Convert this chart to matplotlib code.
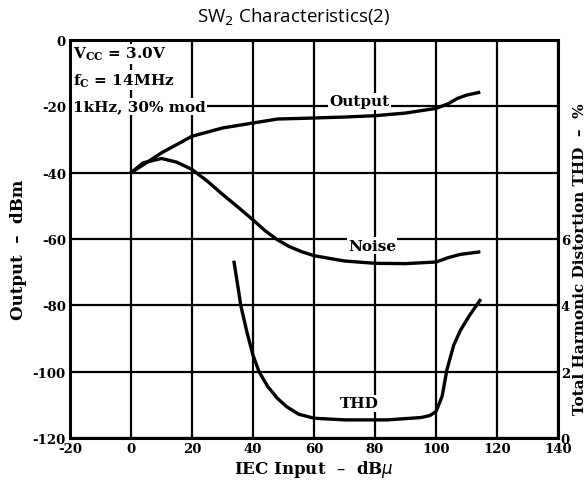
import matplotlib.pyplot as plt

plt.rcParams['axes.unicode_minus'] = False

# data
out_x = [0, 5, 10, 20, 30, 40, 48, 56, 70, 80, 90, 100, 104, 107, 110, 114]
out_y = [-40, -37, -34, -29, -26.5, -25, -23.8, -23.6, -23.2, -22.8, -22.0, -20.6, -19.2, -17.6, -16.6, -15.8]

noise_x = [0, 4, 10, 15, 20, 25, 30, 35, 40, 44, 48, 52, 56, 60, 70, 80, 90, 100, 104, 108, 114]
noise_y = [-40, -37, -35.7, -36.8, -39, -42.5, -46.5, -50.3, -54.2, -57.5, -60.2, -62.3, -63.8, -65, -66.6, -67.3, -67.4, -66.9, -65.6, -64.6, -63.9]

thd_x = [33.8, 35, 36, 38, 40, 42, 44.8, 48, 51, 55, 60, 70, 84, 95, 98, 100, 102, 103.6, 105.8, 108, 111, 114.4]
thd_y = [5.3, 4.6, 4.0, 3.2, 2.5, 2.0, 1.56, 1.2, 0.95, 0.72, 0.6, 0.55, 0.55, 0.62, 0.68, 0.8, 1.26, 2.07, 2.8, 3.25, 3.7, 4.15]

xticks = [-20, 0, 20, 40, 60, 80, 100, 120, 140]
yticks = [-120, -100, -80, -60, -40, -20, 0]
thd_ticks = [0, 2, 4, 6]

serif = 'DejaVu Serif'

fig = plt.figure(figsize=(5.88, 4.89), dpi=100)
ax = fig.add_axes([0.119, 0.102, 0.830, 0.814])

ax.plot(out_x, out_y, color='black', lw=2.4)
ax.plot(noise_x, noise_y, color='black', lw=2.4)

ax.set_xlim(-20, 140)
ax.set_ylim(-120, 0)
ax.set_xticks(xticks)
ax.set_yticks(yticks)
ax.grid(True, color='black', lw=1.6)
ax.set_axisbelow(True)
for s in ax.spines.values():
    s.set_linewidth(2.2)
ax.tick_params(length=0, labelsize=9.5, pad=3)
for lbl in ax.get_xticklabels() + ax.get_yticklabels():
    lbl.set_fontfamily(serif)
    lbl.set_fontweight('bold')

ax2 = ax.twinx()
ax2.plot(thd_x, thd_y, color='black', lw=2.4)
ax2.set_ylim(0, 12)
ax2.set_yticks(thd_ticks)
ax2.tick_params(length=0, labelsize=9.5, pad=2)
for lbl in ax2.get_yticklabels():
    lbl.set_fontfamily(serif)
    lbl.set_fontweight('bold')
for s in ax2.spines.values():
    s.set_visible(False)

box = dict(facecolor='white', edgecolor='none', pad=1)
ax.text(-19, -1.5, '$\\mathregular{V_{CC}}$ = 3.0V', family=serif, fontweight='bold',
        fontsize=11, va='top', ha='left', bbox=box)
ax.text(-19, -9.5, '$\\mathregular{f_C}$ = 14MHz', family=serif, fontweight='bold',
        fontsize=11, va='top', ha='left', bbox=box)
ax.text(-19, -20, '1kHz, 30% mod', family=serif, fontweight='bold',
        fontsize=11, va='center', ha='left', bbox=box)
ax.text(75, -18.5, 'Output', family=serif, fontweight='bold', fontsize=11,
        ha='center', va='center', bbox=box)
ax.text(79, -62, 'Noise', family=serif, fontweight='bold', fontsize=11,
        ha='center', va='center', bbox=box)
ax.text(75, -109.5, 'THD', family=serif, fontweight='bold', fontsize=11,
        ha='center', va='center', bbox=box)

fig.text(0.5, 0.965, 'SW$_2$ Characteristics(2)', family='Open Sans',
         fontsize=13.5, ha='center', va='center')
ax.set_xlabel('IEC Input  –  dB$\\mu$', family=serif, fontweight='bold',
              fontsize=12, labelpad=2)
fig.text(0.032, 0.49, 'Output  –  dBm', family=serif, fontweight='bold',
         fontsize=12, rotation=90, ha='center', va='center')
fig.text(0.986, 0.47, 'Total Harmonic Distortion THD  –  %', family=serif,
         fontweight='bold', fontsize=11, rotation=90, ha='center', va='center')

fig.savefig('out.png', dpi=100)
